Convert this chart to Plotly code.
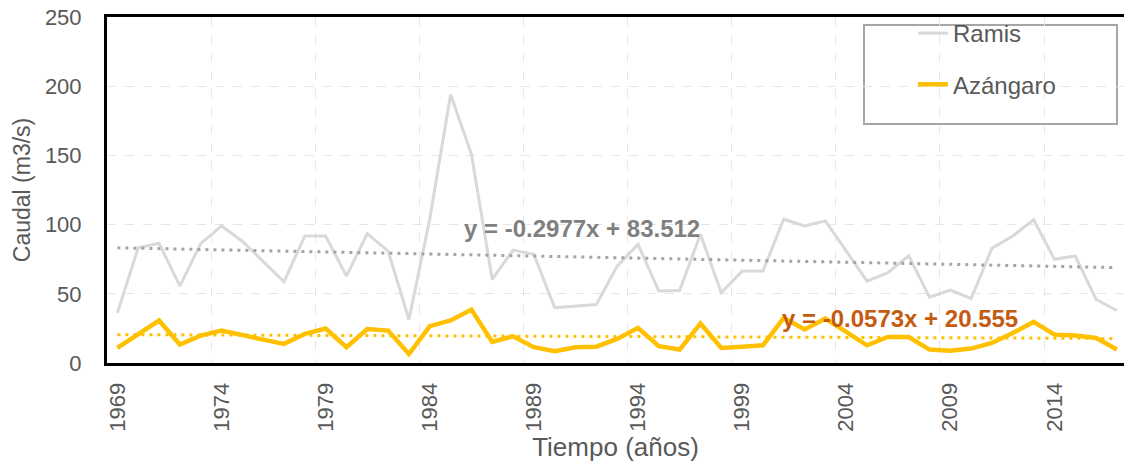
import plotly.graph_objects as go

years = list(range(1969, 2018))
ramis = [36.2, 83.3, 86.5, 55.6, 86.2, 99.0, 88.0, 73.7, 58.7, 91.8,
         91.8, 62.8, 93.5, 80.9, 31.4, 104.0, 194.0, 151.0, 60.4, 81.6,
         78.5, 39.9, 41.0, 42.3, 70.0, 85.7, 52.0, 52.4, 93.0, 50.7,
         66.4, 66.4, 103.9, 99.0, 102.7, 81.0, 59.2, 65.2, 77.5, 47.6,
         52.7, 46.6, 82.9, 91.8, 103.4, 74.9, 77.3, 45.9, 37.9]
azangaro = [10.9, 20.5, 30.7, 13.3, 19.8, 23.4, 20.5, 16.9, 13.8, 21.0,
            24.9, 11.4, 24.6, 23.4, 6.5, 26.6, 30.7, 38.6, 15.2, 19.3,
            11.4, 8.5, 11.4, 11.8, 17.4, 25.4, 12.1, 9.7, 28.5, 10.9,
            11.8, 12.8, 32.6, 24.2, 32.1, 22.9, 12.8, 18.8, 18.8, 9.7,
            8.9, 10.4, 14.5, 21.7, 29.7, 20.5, 19.8, 18.1, 9.7]
# trendline coefficients (as printed on the chart), x = 1..n
ramis_trend = (-0.2977, 83.512)
azang_trend = (-0.0573, 20.555)
tick_years = list(range(1969, 2018, 5))

idx = list(range(1, len(years) + 1))
ramis_fit = [ramis_trend[0] * i + ramis_trend[1] for i in idx]
azang_fit = [azang_trend[0] * i + azang_trend[1] for i in idx]

FONT = "Liberation Sans, Arial, sans-serif"
TXT = "#595959"

fig = go.Figure()
fig.add_trace(go.Scatter(x=years, y=ramis, mode="lines", name="Ramis",
                         line=dict(color="#d9d9d9", width=3), legendgroup="a"))
fig.add_trace(go.Scatter(x=years, y=azangaro, mode="lines", name="Azángaro",
                         line=dict(color="#ffc000", width=4.5), legendgroup="b"))
fig.add_trace(go.Scatter(x=years, y=ramis_fit, mode="lines", showlegend=False,
                         line=dict(color="#a5a5a5", width=3, dash="3px,5px")))
fig.add_trace(go.Scatter(x=years, y=azang_fit, mode="lines", showlegend=False,
                         line=dict(color="#ffc000", width=3, dash="3px,5px")))

fig.add_annotation(x=1991.3, y=97.5, showarrow=False,
                   text="<b>y = %.4fx + %.3f</b>" % ramis_trend,
                   font=dict(family=FONT, size=24, color="#7f7f7f"))
fig.add_annotation(x=2006.6, y=32.5, showarrow=False,
                   text="<b>y = %.4fx + %.3f</b>" % azang_trend,
                   font=dict(family=FONT, size=24, color="#c55a11"))

# legend frame
fig.add_shape(type="rect", xref="paper", yref="paper",
              x0=(864 - 107) / 1017, x1=(1117 - 107) / 1017,
              y0=(363 - 124) / 346, y1=(363 - 25) / 346,
              line=dict(color="#a6a6a6", width=2), fillcolor="white", layer="below")

fig.update_layout(
    width=1124, height=466,
    margin=dict(l=107, r=0, t=17, b=103, autoexpand=False),
    paper_bgcolor="white", plot_bgcolor="rgba(0,0,0,0)",
    font=dict(family=FONT, color=TXT),
    showlegend=True,
    legend=dict(x=(913 - 107) / 1017, y=(363 - 11) / 346, xanchor="left", yanchor="top",
                bgcolor="rgba(0,0,0,0)", borderwidth=0,
                font=dict(family=FONT, size=24, color=TXT),
                traceorder="grouped", tracegroupgap=17),
    xaxis=dict(range=[1968.5, 2017.34], tickmode="array", tickvals=tick_years,
               ticktext=[str(y) for y in tick_years], tickangle=-90,
               tickfont=dict(family=FONT, size=22, color=TXT),
               showgrid=False, zeroline=False, automargin=False,
               showline=True, linecolor="black", linewidth=3, mirror=True,
               ticks="", ticklabelstandoff=8,
               minor=dict(tick0=1968.5, dtick=5, showgrid=True,
                          gridcolor="#e6e6e6", griddash="dash", gridwidth=1),
               title=dict(text="Tiempo (años)", font=dict(family=FONT, size=26, color=TXT),
                          standoff=2)),
    yaxis=dict(range=[0, 250], tickvals=[0, 50, 100, 150, 200, 250],
               tickfont=dict(family=FONT, size=22, color=TXT),
               showgrid=True, gridcolor="#e6e6e6", griddash="dash", gridwidth=1,
               zeroline=False, showline=True, linecolor="black", linewidth=3,
               mirror=False, ticks="", ticklabelstandoff=18, automargin=False,
               title=dict(text="Caudal (m3/s)", font=dict(family=FONT, size=23, color=TXT),
                          standoff=8)),
)

fig.write_html("out.html", config={"displayModeBar": False},
               post_script="document.body.style.margin='0';document.body.style.overflow='hidden';")
